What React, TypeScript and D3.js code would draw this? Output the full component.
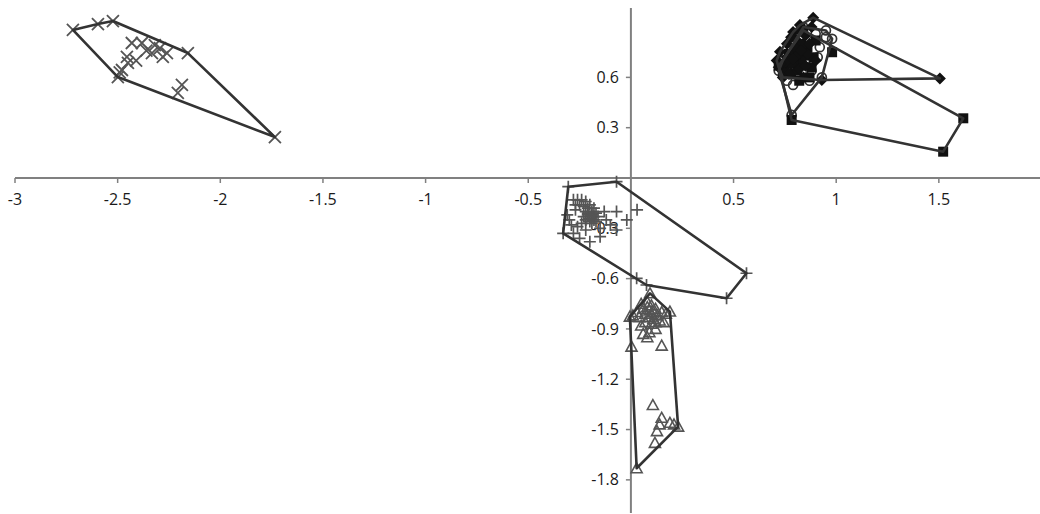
import React from "react";
import * as d3 from "d3";

// Group A: "×" markers (top-left)
const groupAX = [-2.718, -2.596, -2.523, -2.158, -1.734, -2.499, -2.431, -2.382, -2.319, -2.294, -2.333, -2.260, -2.280, -2.455, -2.450, -2.479, -2.187, -2.207, -2.49, -2.41, -2.36];
const groupAY = [0.883, 0.918, 0.936, 0.745, 0.244, 0.602, 0.805, 0.805, 0.793, 0.775, 0.745, 0.745, 0.722, 0.722, 0.686, 0.644, 0.555, 0.507, 0.63, 0.70, 0.76];

// Group B1: filled diamonds (top-right)
const groupDX = [0.888, 1.505, 0.71, 0.726, 0.79, 0.823, 0.93, 0.76, 0.80, 0.85, 0.86, 0.78, 0.82, 0.74, 0.90, 0.84, 0.76, 0.72, 0.75, 0.81, 0.87, 0.83, 0.79, 0.77, 0.73, 0.80, 0.85, 0.88, 0.74, 0.82, 0.78];
const groupDY = [0.956, 0.594, 0.70, 0.753, 0.87, 0.912, 0.584, 0.80, 0.78, 0.85, 0.74, 0.68, 0.65, 0.64, 0.70, 0.60, 0.72, 0.66, 0.69, 0.73, 0.80, 0.76, 0.71, 0.62, 0.68, 0.83, 0.67, 0.90, 0.60, 0.88, 0.84];

// Group B2: filled squares (top-right)
const groupSX = [0.783, 1.619, 1.521, 0.72, 0.98, 0.80, 0.83, 0.86, 0.78, 0.88, 0.82, 0.90, 0.75, 0.87, 0.84, 0.77, 0.81, 0.79, 0.85, 0.76, 0.83, 0.80, 0.89, 0.74];
const groupSY = [0.346, 0.356, 0.157, 0.67, 0.75, 0.72, 0.70, 0.78, 0.62, 0.66, 0.58, 0.82, 0.66, 0.60, 0.88, 0.74, 0.64, 0.69, 0.73, 0.70, 0.80, 0.76, 0.72, 0.63];

// Group B3: open circles (top-right)
const groupOX = [0.783, 0.93, 0.74, 0.78, 0.82, 0.86, 0.90, 0.95, 0.92, 0.80, 0.85, 0.76, 0.79, 0.88, 0.98, 0.95, 0.72, 0.84, 0.91, 0.87];
const groupOY = [0.376, 0.60, 0.70, 0.76, 0.80, 0.82, 0.86, 0.84, 0.78, 0.66, 0.70, 0.58, 0.555, 0.64, 0.83, 0.88, 0.64, 0.90, 0.72, 0.58];

// Group C: "+" markers (centre)
const groupPX = [-0.305, -0.070, 0.563, 0.466, 0.028, -0.330, 0.076, -0.28, -0.26, -0.24, -0.22, -0.27, -0.25, -0.23, -0.20, -0.18, -0.21, -0.19, -0.20, -0.22, -0.18, -0.17, -0.16, -0.23, -0.24, -0.26, -0.29, -0.31, -0.28, -0.25, -0.20, -0.15, -0.12, -0.07, 0.03, -0.02, -0.07, -0.13, -0.10, -0.22, -0.15, -0.19, -0.21, -0.20, -0.18, -0.22, -0.19, -0.17, -0.21, -0.27, -0.30];
const groupPY = [-0.052, -0.022, -0.568, -0.717, -0.598, -0.330, -0.638, -0.13, -0.13, -0.13, -0.14, -0.16, -0.16, -0.17, -0.16, -0.18, -0.21, -0.22, -0.24, -0.25, -0.25, -0.21, -0.23, -0.23, -0.27, -0.29, -0.28, -0.22, -0.33, -0.36, -0.38, -0.30, -0.25, -0.20, -0.19, -0.25, -0.31, -0.20, -0.28, -0.31, -0.35, -0.20, -0.22, -0.26, -0.23, -0.20, -0.27, -0.26, -0.18, -0.19, -0.25];

// Group D: open triangles (bottom)
const groupTX = [0.093, 0.19, 0.23, 0.028, 0.003, -0.005, 0.05, 0.08, 0.10, 0.12, 0.06, 0.03, 0.01, 0.04, 0.07, 0.09, 0.11, 0.13, 0.15, 0.17, 0.14, 0.10, 0.07, 0.05, 0.12, 0.09, 0.06, 0.16, 0.08, 0.15, 0.107, 0.15, 0.14, 0.127, 0.117, 0.19, 0.21, 0.09, 0.11, 0.08, 0.12, 0.10];
const groupTY = [-0.688, -0.797, -1.483, -1.731, -1.006, -0.827, -0.75, -0.74, -0.76, -0.78, -0.78, -0.80, -0.82, -0.83, -0.81, -0.83, -0.80, -0.82, -0.80, -0.81, -0.85, -0.87, -0.86, -0.88, -0.90, -0.92, -0.93, -0.86, -0.95, -1.00, -1.354, -1.43, -1.47, -1.51, -1.58, -1.46, -1.47, -0.79, -0.84, -0.77, -0.86, -0.81];

const xTicks = [-3, -2.5, -2, -1.5, -1, -0.5, 0.5, 1, 1.5];
const yTicks = [0.6, 0.3, -0.3, -0.6, -0.9, -1.2, -1.5, -1.8];

const W = 1040;
const H = 514;

const x = d3.scaleLinear().domain([-3, 2]).range([15, 15 + 5 * 205.3]);
const y = d3.scaleLinear().domain([0, 1]).range([178, 178 - 167.7]);

type Pt = [number, number];
const zip = (xs: number[], ys: number[]): Pt[] => xs.map((v, i) => [v, ys[i]]);

const groups = [
  { key: "A", pts: zip(groupAX, groupAY), marker: "x" },
  { key: "C", pts: zip(groupPX, groupPY), marker: "plus" },
  { key: "D", pts: zip(groupTX, groupTY), marker: "tri" },
  { key: "O", pts: zip(groupOX, groupOY), marker: "circle" },
  { key: "S", pts: zip(groupSX, groupSY), marker: "square" },
  { key: "Dm", pts: zip(groupDX, groupDY), marker: "diamond" },
];

const markerColor = "#555";

function Marker({ type, cx, cy }: { type: string; cx: number; cy: number }) {
  switch (type) {
    case "x": {
      const s = 6;
      return (
        <path d={`M${cx - s},${cy - s}L${cx + s},${cy + s}M${cx - s},${cy + s}L${cx + s},${cy - s}`} stroke={markerColor} strokeWidth={1.8} fill="none" />
      );
    }
    case "plus": {
      const s = 6;
      return (
        <path d={`M${cx - s},${cy}L${cx + s},${cy}M${cx},${cy - s}L${cx},${cy + s}`} stroke={markerColor} strokeWidth={1.7} fill="none" />
      );
    }
    case "tri": {
      const s = 5.5;
      return (
        <path d={`M${cx},${cy - s}L${cx + s},${cy + s * 0.8}L${cx - s},${cy + s * 0.8}Z`} stroke={markerColor} strokeWidth={1.6} fill="none" />
      );
    }
    case "circle":
      return <circle cx={cx} cy={cy} r={4.5} stroke="#333" strokeWidth={1.7} fill="none" />;
    case "square":
      return <rect x={cx - 5} y={cy - 5} width={10} height={10} fill="#111" />;
    case "diamond": {
      const s = 6;
      return <path d={`M${cx},${cy - s}L${cx + s},${cy}L${cx},${cy + s}L${cx - s},${cy}Z`} fill="#111" />;
    }
  }
  return null;
}

export default function App() {
  const axisColor = "#808080";
  const font = "'Open Sans', 'Noto Sans', sans-serif";
  const x0 = x(0);
  const y0 = y(0);
  return (
    <svg width={W} height={H} style={{ position: "absolute", left: 0, top: 0, background: "#fff" }}>
      {/* axes */}
      <line x1={x(-3)} x2={W} y1={y0} y2={y0} stroke={axisColor} strokeWidth={2} />
      <line x1={x0} x2={x0} y1={8} y2={513} stroke={axisColor} strokeWidth={2} />
      {xTicks.map((t) => (
        <g key={"xt" + t}>
          <line x1={x(t)} x2={x(t)} y1={y0} y2={y0 + 5} stroke={axisColor} strokeWidth={1.5} />
          <text x={x(t)} y={y0 + 27} textAnchor="middle" fontFamily={font} fontSize={16} fill="#1a1a1a">
            {t}
          </text>
        </g>
      ))}
      {yTicks.map((t) => (
        <g key={"yt" + t}>
          <line x1={x0 - 5} x2={x0} y1={y(t)} y2={y(t)} stroke={axisColor} strokeWidth={1.5} />
          <text x={x0 - 12} y={y(t)} dy="0.35em" textAnchor="end" fontFamily={font} fontSize={16} fill="#1a1a1a">
            {t}
          </text>
        </g>
      ))}
      {/* markers */}
      {groups.map((g) => (
        <g key={"m" + g.key}>
          {g.pts.map((p, i) => (
            <Marker key={i} type={g.marker} cx={x(p[0])} cy={y(p[1])} />
          ))}
        </g>
      ))}
      {/* hulls */}
      {groups.map((g) => {
        const hull = d3.polygonHull(g.pts.map((p) => [x(p[0]), y(p[1])] as [number, number]));
        if (!hull) return null;
        return (
          <path key={"h" + g.key} d={"M" + hull.map((p) => p.join(",")).join("L") + "Z"} fill="none" stroke="#333" strokeWidth={2.6} strokeLinejoin="round" />
        );
      })}
    </svg>
  );
}
